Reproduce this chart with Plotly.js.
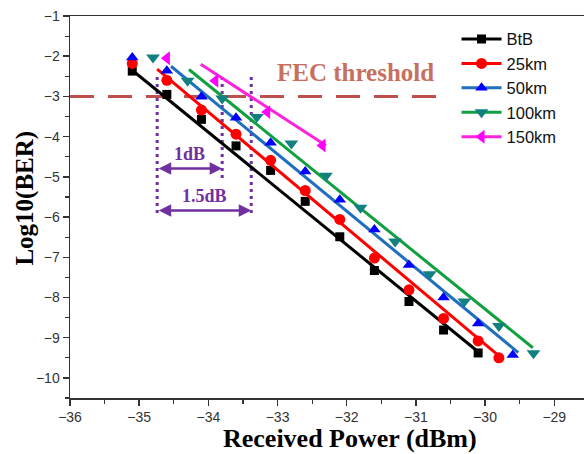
<!DOCTYPE html>
<html>
<head>
<meta charset="utf-8">
<script src="https://cdn.plot.ly/plotly-3.0.1.min.js"></script>
<style>html,body{margin:0;padding:0;background:#fff;}#chart{width:584px;height:454px;}</style>
</head>
<body>
<div id="chart"></div>
<script>
// Series names
const seriesNames = ['BtB', '25km', '50km', '100km', '150km'];

// Measured points (Received Power dBm, log10 BER)
const btbX = [-35.1, -34.6, -34.1, -33.6, -33.1, -32.6, -32.1, -31.6, -31.1, -30.6, -30.1];
const btbY = [-2.37, -2.95, -3.57, -4.23, -4.84, -5.61, -6.49, -7.33, -8.10, -8.81, -9.38];
const km25X = [-35.1, -34.6, -34.1, -33.6, -33.1, -32.6, -32.1, -31.6, -31.1, -30.6, -30.1, -29.8];
const km25Y = [-2.18, -2.60, -3.34, -3.94, -4.59, -5.34, -6.06, -7.02, -7.81, -8.52, -9.08, -9.50];
const km50X = [-35.1, -34.6, -34.1, -33.6, -33.1, -32.6, -32.1, -31.6, -31.1, -30.6, -30.1, -29.6];
const km50Y = [-2.03, -2.36, -3.01, -3.53, -4.15, -4.87, -5.57, -6.31, -7.19, -8.00, -8.65, -9.43];
const km100X = [-34.8, -34.3, -33.8, -33.3, -32.8, -32.3, -31.8, -31.3, -30.8, -30.3, -29.8, -29.3];
const km100Y = [-2.03, -2.61, -3.05, -3.51, -4.17, -4.97, -5.77, -6.61, -7.42, -8.10, -8.71, -9.39];
const km150X = [-34.6, -33.9, -33.15, -32.35];
const km150Y = [-2.05, -2.61, -3.39, -4.22];

// Linear fit line end points
const fitBtbX = [-35.1, -30.1];   const fitBtbY = [-2.35, -9.35];
const fit25X = [-34.74, -29.8];   const fit25Y = [-2.32, -9.45];
const fit50X = [-34.54, -29.52];  const fit50Y = [-2.25, -9.37];
const fit100X = [-34.28, -29.31]; const fit100Y = [-2.33, -9.25];
const fit150X = [-34.11, -32.30]; const fit150Y = [-2.20, -4.22];

// FEC threshold
const fecLevel = -3;
const fecX = [-36, -30.7];
const fecLabel = 'FEC threshold';

// Sensitivity penalty markers
const guideX = [-34.74, -33.80, -33.38];
const guideTopY = -2.52;
const guideBottomY = [-5.96, -5.04, -5.96];
const arrow1Y = -4.79;
const arrow15Y = -5.84;
const penaltyLabels = ['1dB', '1.5dB'];

const markerColors = ['#000000', '#ff0000', '#0000ff', '#138080', '#ff00ff'];
const lineColors = ['#000000', '#ff0000', '#1f6fc0', '#10a040', '#ff22dd'];
const symbols = ['square', 'circle', 'triangle-up', 'triangle-down', 'triangle-left'];
const msizes = [9, 11, 11, 12, 12];

const pts = [[btbX, btbY], [km25X, km25Y], [km50X, km50Y], [km100X, km100Y], [km150X, km150Y]];
const fits = [[fitBtbX, fitBtbY], [fit25X, fit25Y], [fit50X, fit50Y], [fit100X, fit100Y], [fit150X, fit150Y]];

const purple = '#7030a0';
const traces = [];

traces.push({x: fecX, y: [fecLevel, fecLevel], mode: 'lines', showlegend: false, hoverinfo: 'skip',
  line: {color: '#c0504d', width: 3, dash: '24px,14px'}});

guideX.forEach((gx, i) => {
  traces.push({x: [gx, gx], y: [guideTopY, guideBottomY[i]], mode: 'lines', showlegend: false, hoverinfo: 'skip',
    line: {color: purple, width: 3, dash: '3px,4px'}});
});

for (let i = 0; i < 5; i++) {
  traces.push({x: fits[i][0], y: fits[i][1], mode: 'lines', showlegend: false, hoverinfo: 'skip',
    line: {color: lineColors[i], width: 3}});
  traces.push({x: pts[i][0], y: pts[i][1], mode: 'markers', showlegend: false,
    marker: {color: markerColors[i], symbol: symbols[i], size: msizes[i]}});
}
for (let i = 0; i < 5; i++) {
  traces.push({x: [null], y: [null], mode: 'lines+markers', name: seriesNames[i], showlegend: true,
    line: {color: lineColors[i], width: 3},
    marker: {color: markerColors[i], symbol: symbols[i], size: msizes[i]}});
}

const serif = 'Liberation Serif, Times New Roman, serif';
const annotations = [
  {x: -31.88, y: -2.40, xref: 'x', yref: 'y', text: '<b>' + fecLabel + '</b>', showarrow: false,
   font: {family: serif, size: 25, color: '#c8705f'}},
  {x: guideX[1], y: arrow1Y, ax: guideX[0], ay: arrow1Y, axref: 'x', ayref: 'y', xref: 'x', yref: 'y',
   text: '', showarrow: true, arrowhead: 2, arrowside: 'end+start', arrowsize: 1, arrowwidth: 2.5, arrowcolor: purple},
  {x: guideX[2], y: arrow15Y, ax: guideX[0], ay: arrow15Y, axref: 'x', ayref: 'y', xref: 'x', yref: 'y',
   text: '', showarrow: true, arrowhead: 2, arrowside: 'end+start', arrowsize: 1, arrowwidth: 2.5, arrowcolor: purple},
  {x: (guideX[0] + guideX[1]) / 2, y: arrow1Y, xref: 'x', yref: 'y', yshift: 14, text: '<b>' + penaltyLabels[0] + '</b>',
   showarrow: false, font: {family: serif, size: 18, color: purple}},
  {x: (guideX[0] + guideX[2]) / 2, y: arrow15Y, xref: 'x', yref: 'y', yshift: 15, text: '<b>' + penaltyLabels[1] + '</b>',
   showarrow: false, font: {family: serif, size: 18, color: purple}},
  // axis titles
  {x: 0.545, y: -0.105, xref: 'paper', yref: 'paper', xanchor: 'center', yanchor: 'middle', showarrow: false,
   text: '<b>Received Power (dBm)</b>', font: {family: serif, size: 26, color: '#000000'}},
  {x: -0.088, y: 0.524, xref: 'paper', yref: 'paper', xanchor: 'center', yanchor: 'middle', showarrow: false,
   textangle: -90, text: '<b>Log10(BER)</b>', font: {family: serif, size: 25, color: '#000000'}}
];

const layout = {
  width: 584, height: 454,
  margin: {l: 70, r: 0, t: 16, b: 56},
  paper_bgcolor: '#ffffff', plot_bgcolor: '#ffffff',
  font: {family: 'Liberation Sans, Arial, sans-serif', color: '#333333'},
  xaxis: {
    range: [-36, -28.57], dtick: 1, tick0: -36, showgrid: false, zeroline: false,
    showline: true, linecolor: '#333333', linewidth: 1.5, mirror: true,
    ticks: 'outside', ticklen: 6, tickwidth: 1.5, tickcolor: '#333333',
    minor: {dtick: 0.5, ticks: 'outside', ticklen: 4, tickwidth: 1.2, tickcolor: '#333333'},
    tickfont: {size: 14, color: '#333333'}
  },
  yaxis: {
    range: [-10.5, -1], dtick: 1, tick0: -1, showgrid: false, zeroline: false,
    showline: true, linecolor: '#333333', linewidth: 1.5,
    ticks: 'outside', ticklen: 6, tickwidth: 1.5, tickcolor: '#333333',
    minor: {dtick: 0.5, ticks: 'outside', ticklen: 4, tickwidth: 1.2, tickcolor: '#333333'},
    tickfont: {size: 14, color: '#333333'}
  },
  legend: {x: 0.752, y: 0.985, xanchor: 'left', yanchor: 'top', bgcolor: 'rgba(255,255,255,0)',
    itemwidth: 40,
    font: {family: 'Liberation Sans, Arial, sans-serif', size: 16.5, color: '#111111'}, tracegroupgap: 0},
  annotations: annotations,
  showlegend: true
};

Plotly.newPlot('chart', traces, layout, {staticPlot: true, displayModeBar: false});
</script>
</body>
</html>
